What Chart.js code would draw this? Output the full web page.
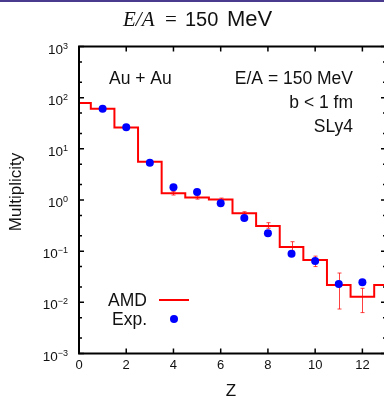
<!DOCTYPE html>
<html>
<head>
<meta charset="utf-8">
<script src="https://cdn.jsdelivr.net/npm/chart.js"></script>
<style>
  html, body { margin: 0; padding: 0; background: #fff; overflow: hidden; }
  #wrap { position: relative; width: 384px; height: 397px; overflow: hidden; }
  #topbar { position: absolute; left: 0; top: 0; width: 384px; height: 2px; background: #4a3b8f; }
  #chart { position: absolute; left: 0; top: 0; }
</style>
</head>
<body>
<div id="wrap">
  <canvas id="chart" width="400" height="397"></canvas>
  <div id="topbar"></div>
</div>
<script>
// AMD histogram, one bin per Z (centred on integer Z)
const amdZ = [0, 1, 2, 3, 4, 5, 6, 7, 8, 9, 10, 11, 12, 13];
const amdMult = [78.5, 60.8, 26.1, 5.6, 1.35, 1.12, 1.02, 0.55, 0.31, 0.12, 0.067, 0.0218, 0.0129, 0.0218];

// AMD error bars (low / high)
const errZ = [4, 5, 6, 7, 8, 9, 10, 11, 12];
const errLo = [1.25, 1.04, 0.95, 0.51, 0.28, 0.1, 0.05, 0.0074, 0.0063];
const errHi = [1.46, 1.2, 1.09, 0.59, 0.36, 0.153, 0.08, 0.0374, 0.0188];

// experimental data
const expZ = [1, 2, 3, 4, 5, 6, 7, 8, 9, 10, 11, 12];
const expMult = [61, 26.3, 5.36, 1.77, 1.43, 0.86, 0.445, 0.223, 0.089, 0.064, 0.0228, 0.0246];

const xTicks = [0, 2, 4, 6, 8, 10, 12];
const yDecades = [-3, -2, -1, 0, 1, 2, 3];
const yMinor = [2, 5];

const SANS = '"Liberation Sans", Arial, sans-serif';

const deco = {
  id: 'deco',
  beforeDatasetsDraw(chart) {
    const {ctx, scales: {x, y}} = chart;
    ctx.save();
    ctx.strokeStyle = 'rgba(255,0,0,0.75)';
    ctx.lineWidth = 1;
    for (let i = 0; i < errZ.length; i++) {
      const px = Math.round(x.getPixelForValue(errZ[i])) + 0.5;
      const y1 = y.getPixelForValue(errLo[i]);
      const y2 = y.getPixelForValue(errHi[i]);
      ctx.beginPath();
      ctx.moveTo(px, y1); ctx.lineTo(px, y2);
      ctx.moveTo(px - 2, y1); ctx.lineTo(px + 2, y1);
      ctx.moveTo(px - 2, y2); ctx.lineTo(px + 2, y2);
      ctx.stroke();
    }
    ctx.restore();
  },
  afterDraw(chart) {
    const {ctx, chartArea: a, scales: {x, y}} = chart;
    ctx.save();
    // frame
    ctx.strokeStyle = '#000';
    ctx.lineWidth = 2;
    ctx.strokeRect(a.left, a.top, a.right - a.left, a.bottom - a.top);

    // x ticks (top and bottom, inward)
    ctx.lineWidth = 1.5;
    ctx.beginPath();
    xTicks.forEach(v => {
      const px = x.getPixelForValue(v);
      ctx.moveTo(px, a.bottom); ctx.lineTo(px, a.bottom - 5);
      ctx.moveTo(px, a.top); ctx.lineTo(px, a.top + 5);
    });
    // y ticks (left and right, inward)
    yDecades.forEach(e => {
      const py = y.getPixelForValue(Math.pow(10, e));
      ctx.moveTo(a.left, py); ctx.lineTo(a.left + 5, py);
      ctx.moveTo(a.right, py); ctx.lineTo(a.right - 5, py);
      if (e < 3) {
        yMinor.forEach(m => {
          const pm = y.getPixelForValue(m * Math.pow(10, e));
          ctx.moveTo(a.left, pm); ctx.lineTo(a.left + 3, pm);
          ctx.moveTo(a.right, pm); ctx.lineTo(a.right - 3, pm);
        });
      }
    });
    ctx.stroke();

    // y tick labels 10^n
    ctx.fillStyle = '#111';
    ctx.textBaseline = 'alphabetic';
    yDecades.forEach(e => {
      const py = y.getPixelForValue(Math.pow(10, e));
      const ex = (e < 0 ? '\u2212' : '') + Math.abs(e);
      ctx.font = '9px ' + SANS;
      const we = ctx.measureText(ex).width;
      ctx.textAlign = 'right';
      ctx.fillText(ex, 68, py + 2);
      ctx.font = '13.5px ' + SANS;
      ctx.fillText('10', 68 - we, py + 7);
    });

    // axis titles
    ctx.font = '17px ' + SANS;
    ctx.textAlign = 'center';
    ctx.fillText('Z', 231, 396);
    ctx.save();
    ctx.translate(20.5, 192);
    ctx.rotate(-Math.PI / 2);
    ctx.fillText('Multiplicity', 0, 0);
    ctx.restore();

    // header
    ctx.textAlign = 'left';
    ctx.font = 'italic 21px "Liberation Serif", serif';
    ctx.fillText('E/A', 123, 26);
    ctx.font = '21px "Liberation Serif", serif';
    ctx.fillText('=', 165, 26);
    ctx.font = '20px ' + SANS;
    ctx.fillText('150', 185, 26);
    ctx.font = '22px ' + SANS;
    ctx.fillText('MeV', 227, 26);

    // annotations
    ctx.font = '17.5px ' + SANS;
    ctx.textAlign = 'left';
    ctx.fillText('Au + Au', 109, 84);
    ctx.textAlign = 'right';
    ctx.fillText('E/A = 150 MeV', 353, 84);
    ctx.fillText('b < 1 fm', 353, 108);
    ctx.fillText('SLy4', 353, 132);

    // legend
    ctx.fillText('AMD', 147, 306);
    ctx.fillText('Exp.', 147, 325);
    ctx.strokeStyle = '#ff0000';
    ctx.lineWidth = 2;
    ctx.beginPath();
    ctx.moveTo(159, 300); ctx.lineTo(189, 300);
    ctx.stroke();
    ctx.fillStyle = '#0000ff';
    ctx.beginPath();
    ctx.arc(174, 319, 4, 0, Math.PI * 2);
    ctx.fill();
    ctx.restore();
  }
};

new Chart(document.getElementById('chart'), {
  data: {
    datasets: [
      {
        type: 'scatter',
        label: 'Exp.',
        data: expZ.map((z, i) => ({x: z, y: expMult[i]})),
        backgroundColor: '#0000ff',
        borderWidth: 0,
        pointRadius: 4,
      },
      {
        type: 'line',
        label: 'AMD',
        data: amdZ.map((z, i) => ({x: z, y: amdMult[i]})),
        stepped: 'middle',
        borderColor: '#ff0000',
        borderWidth: 2,
        pointRadius: 0,
        fill: false,
      },
    ],
  },
  options: {
    responsive: false,
    animation: false,
    layout: {padding: {top: 46.5, right: 14, bottom: 0, left: 0}},
    plugins: {legend: {display: false}, tooltip: {enabled: false}},
    scales: {
      x: {
        type: 'linear',
        min: 0,
        max: 13,
        grid: {display: false, drawTicks: false},
        border: {display: false},
        afterBuildTicks: s => { s.ticks = xTicks.map(v => ({value: v})); },
        afterFit: s => { s.height = 43.5; },
        ticks: {
          font: {family: SANS, size: 13},
          color: '#111',
          padding: 4,
          maxRotation: 0,
          autoSkip: false,
        },
      },
      y: {
        type: 'logarithmic',
        min: 1e-3,
        max: 1e3,
        grid: {display: false, drawTicks: false},
        border: {display: false},
        ticks: {display: false},
        afterFit: s => { s.width = 79; },
      },
    },
  },
  plugins: [deco],
});
</script>
</body>
</html>
